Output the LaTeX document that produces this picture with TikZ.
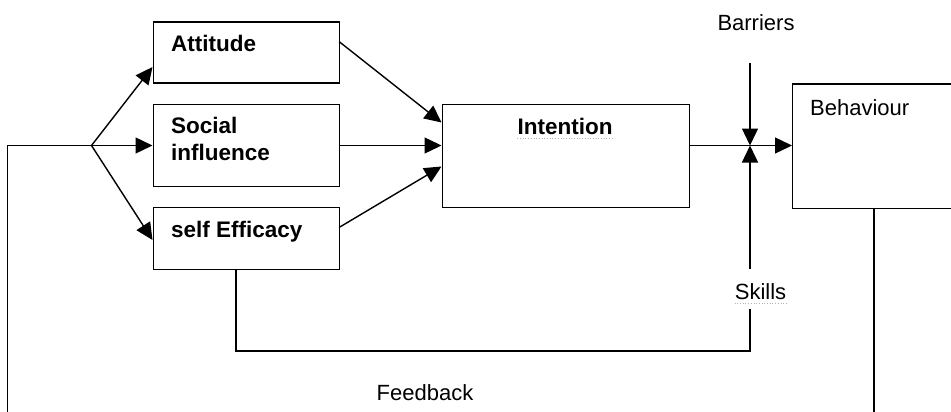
\documentclass[tikz,border=0pt]{standalone}
\usepackage{fontspec}
\setmainfont{Liberation Sans}
\usetikzlibrary{arrows.meta}
\begin{document}
\begin{tikzpicture}[x=1pt,y=-1pt,
  box/.style={draw,line width=1.4pt,rectangle,inner sep=0pt,anchor=north west},
  lbl/.style={font=\fontsize{22.5}{26}\selectfont\bfseries,inner sep=0pt,anchor=base west},
  txt/.style={font=\fontsize{22}{26}\selectfont,inner sep=0pt,anchor=base},
  conn/.style={line width=1.4pt},
  arr/.style={line width=1.4pt,-{Triangle[length=17pt,width=16pt]}},
  squig/.style={draw=black!30,line width=0.7pt,dotted}]
\useasboundingbox (0,0) rectangle (951,412);
% boxes
\node[box,minimum width=186pt,minimum height=61pt] (att) at (152.5,21.5) {};
\node[box,minimum width=186pt,minimum height=82pt] (soc) at (152.5,103.5) {};
\node[box,minimum width=186pt,minimum height=62pt] (eff) at (152.5,206.5) {};
\node[box,minimum width=247pt,minimum height=103pt] (int) at (441.5,104) {};
\node[box,minimum width=175pt,minimum height=124pt] (beh) at (792,83.5) {};
% texts
\node[lbl] (tatt) at (171,52) {Attitude};
\node[lbl] (tsoc) at (171,133) {Social};
\node[lbl] (tinf) at (171,160) {influence};
\node[lbl] (teff) at (171,237) {self Efficacy};
\node[lbl,anchor=base] (tint) at (565,134) {Intention};
\node[txt,anchor=base west] (tbeh) at (810,115) {Behaviour};
\node[txt] (tbar) at (756,31) {Barriers};
\node[txt] (tski) at (760.5,299) {Skills};
\node[txt] (tfee) at (425,400.5) {Feedback};
\draw[squig] (tint.base west)++(0,4) -- ++(96,0);
\draw[squig] (tski.base west)++(0,4) -- ++(53,0);
% coordinates
\coordinate (br) at (91.5,145.5);
\coordinate (fl) at (7.5,420);
\coordinate (fr) at (874,420);
\coordinate (bt) at (750,63);
\coordinate (jn) at (750,145.5);
\coordinate (sk1) at (750,269);
\coordinate (sk2) at (750,309);
\coordinate (sk3) at (750,351);
\coordinate (ef3) at (236,351);
% feedback loop
\draw[conn] (beh.south -| fr) -- (fr);
\draw[conn] (fl) -- (fl |- br) -- (br);
\draw[arr] (br) -- (152.5,67);
\draw[arr] (br) -- (soc.west |- br);
\draw[arr] (br) -- (152.5,240);
% to intention
\draw[arr] (339,41.5) -- (441.5,122.5);
\draw[arr] (soc.east |- br) -- (int.west |- br);
\draw[arr] (339,227.5) -- (441.5,166.5);
% intention to behaviour
\draw[arr] (int.east |- br) -- (beh.west |- br);
\draw[arr] (bt) -- (jn);
\draw[arr] (sk1) -- (jn);
\draw[conn] (sk2) -- (sk3) -- (ef3) -- (eff.south -| ef3);
\end{tikzpicture}
\end{document}
